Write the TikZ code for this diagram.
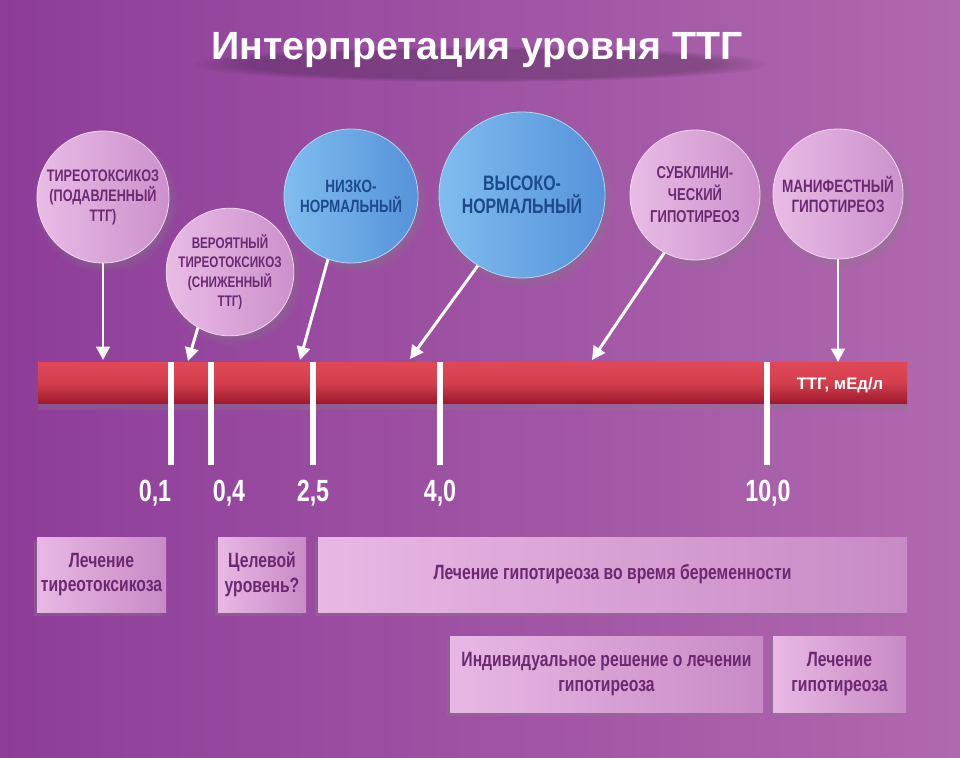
\documentclass[tikz,border=0pt]{standalone}
\usepackage{fontspec}
\setmainfont{Liberation Sans}
\newfontfamily\narrowfont[FakeStretch=0.76]{Liberation Sans}
\usetikzlibrary{arrows.meta, shadows, fadings}

\definecolor{bgL}{HTML}{8D3D99}
\definecolor{bgR}{HTML}{B068AE}
\definecolor{pinkL}{HTML}{E8BCE5}
\definecolor{pinkR}{HTML}{CC90CC}
\definecolor{pinktext}{HTML}{6C2A72}
\definecolor{blueL}{HTML}{80BDEE}
\definecolor{blueR}{HTML}{5592DA}
\definecolor{bluetext}{HTML}{1D4A8C}
\definecolor{barT}{HTML}{E04856}
\definecolor{barB}{HTML}{A01A2C}
\definecolor{boxL}{HTML}{E8B8E4}
\definecolor{boxR}{HTML}{C88AC6}
\definecolor{boxtext}{HTML}{6C2870}

\begin{document}
\begin{tikzpicture}[x=0.75pt, y=-0.75pt,
  ball/.style={circle, inner sep=0pt, minimum size={1.5pt*#1}, align=center,
    circular drop shadow={shadow xshift=2pt, shadow yshift=-3pt, opacity=0.35}},
  pinkball/.style={ball=#1, left color=pinkL, right color=pinkR, text=pinktext,
    draw=pinkL!60!white, line width=0.6pt},
  blueball/.style={ball=#1, left color=blueL, right color=blueR, text=bluetext,
    draw=blueL!60!white, line width=0.6pt},
  pointer/.style={draw=white, line width=2.2pt, -{Triangle[width=10pt,length=10pt]}},
  tick/.style={draw=white, line width=5pt},
  value/.style={text=white, font=\narrowfont\bfseries\fontsize{23}{26}\selectfont},
  tbox/.style 2 args={rectangle, minimum width={0.75pt*#1}, minimum height={0.75pt*#2},
    inner sep=0pt, align=center, left color=boxL, right color=boxR, text=boxtext,
    font=\narrowfont\bfseries\fontsize{15.5}{18.5}\selectfont,
    drop shadow={shadow xshift=-2pt, shadow yshift=-3pt, opacity=0.35}}
]
\shade[left color=bgL, right color=bgR] (0,0) rectangle (960,757);
\useasboundingbox (0,0) rectangle (960,757);

% title
\fill[black, opacity=0.2, path fading=circle with fuzzy edge 20 percent] (480,64) ellipse [x radius=290, y radius=18];
\node[text=white, font=\bfseries\fontsize{29.5}{32}\selectfont] (title) at (477,50) {Интерпретация уровня ТТГ};

% circles
\node[pinkball=66, font=\narrowfont\bfseries\fontsize{12.5}{15}\selectfont] (tox) at (103,197)
  {ТИРЕОТОКСИКОЗ\\(ПОДАВЛЕННЫЙ\\ТТГ)};
\node[pinkball=63, font=\narrowfont\bfseries\fontsize{11.5}{14.5}\selectfont] (probtox) at (230,272)
  {ВЕРОЯТНЫЙ\\ТИРЕОТОКСИКОЗ\\(СНИЖЕННЫЙ\\ТТГ)};
\node[blueball=67, font=\narrowfont\bfseries\fontsize{13.3}{15}\selectfont] (lownorm) at (351,196)
  {НИЗКО-\\НОРМАЛЬНЫЙ};
\node[blueball=83, font=\narrowfont\bfseries\fontsize{15.7}{17}\selectfont] (highnorm) at (522,195)
  {ВЫСОКО-\\НОРМАЛЬНЫЙ};
\node[pinkball=65, font=\narrowfont\bfseries\fontsize{12.9}{16.5}\selectfont] (subclin) at (695,195)
  {СУБКЛИНИ-\\ЧЕСКИЙ\\ГИПОТИРЕОЗ};
\node[pinkball=65, font=\narrowfont\bfseries\fontsize{13.4}{15}\selectfont] (manif) at (838,194)
  {МАНИФЕСТНЫЙ\\ГИПОТИРЕОЗ};

% scale
\node[rectangle, minimum width=651.75pt, minimum height=30.75pt, inner sep=0pt,
  top color=barT, bottom color=barB, middle color=barT!80!barB,
  drop shadow={shadow xshift=0pt, shadow yshift=-5pt, opacity=0.3}] (scale) at (472.5,382.5) {};
\node[text=white, font=\bfseries\fontsize{12.5}{14}\selectfont] (unit) at (840,385) {ТТГ, мЕд/л};
\draw[tick] (171,362) -- (171,465);
\draw[tick] (211,362) -- (211,465);
\draw[tick] (313,362) -- (313,465);
\draw[tick] (440,362) -- (440,465);
\draw[tick] (767,362) -- (767,465);
\node[value] (v01) at (155,493) {0,1};
\node[value] (v04) at (229,493) {0,4};
\node[value] (v25) at (313,493) {2,5};
\node[value] (v40) at (440,493) {4,0};
\node[value] (v10) at (768,493) {10,0};

% arrows
\coordinate (p1) at (103,360);
\coordinate (p2) at (188,361);
\coordinate (p3) at (300,360);
\coordinate (p4) at (410,359);
\coordinate (p5) at (592,360);
\coordinate (p6) at (838,362);
\draw[pointer] (tox.south) -- (p1);
\draw[pointer] (probtox.-120) -- (p2);
\draw[pointer] (lownorm.-110) -- (p3);
\draw[pointer] (highnorm.-122) -- (p4);
\draw[pointer] (subclin.-118) -- (p5);
\draw[pointer] (manif.south) -- (p6);

% treatment boxes
\node[tbox={129}{75}] (treattox) at (101.5,574.5) {Лечение\\тиреотоксикоза};
\node[tbox={88}{75}] (target) at (262,574.5) {Целевой\\уровень?};
\node[tbox={589}{75}] (pregn) at (612.5,574.5) {Лечение гипотиреоза во время беременности};
\node[tbox={313}{76}] (indiv) at (606.5,674) {Индивидуальное решение о лечении\\гипотиреоза};
\node[tbox={133}{76}] (treathypo) at (839.5,674) {Лечение\\гипотиреоза};
\end{tikzpicture}
\end{document}
